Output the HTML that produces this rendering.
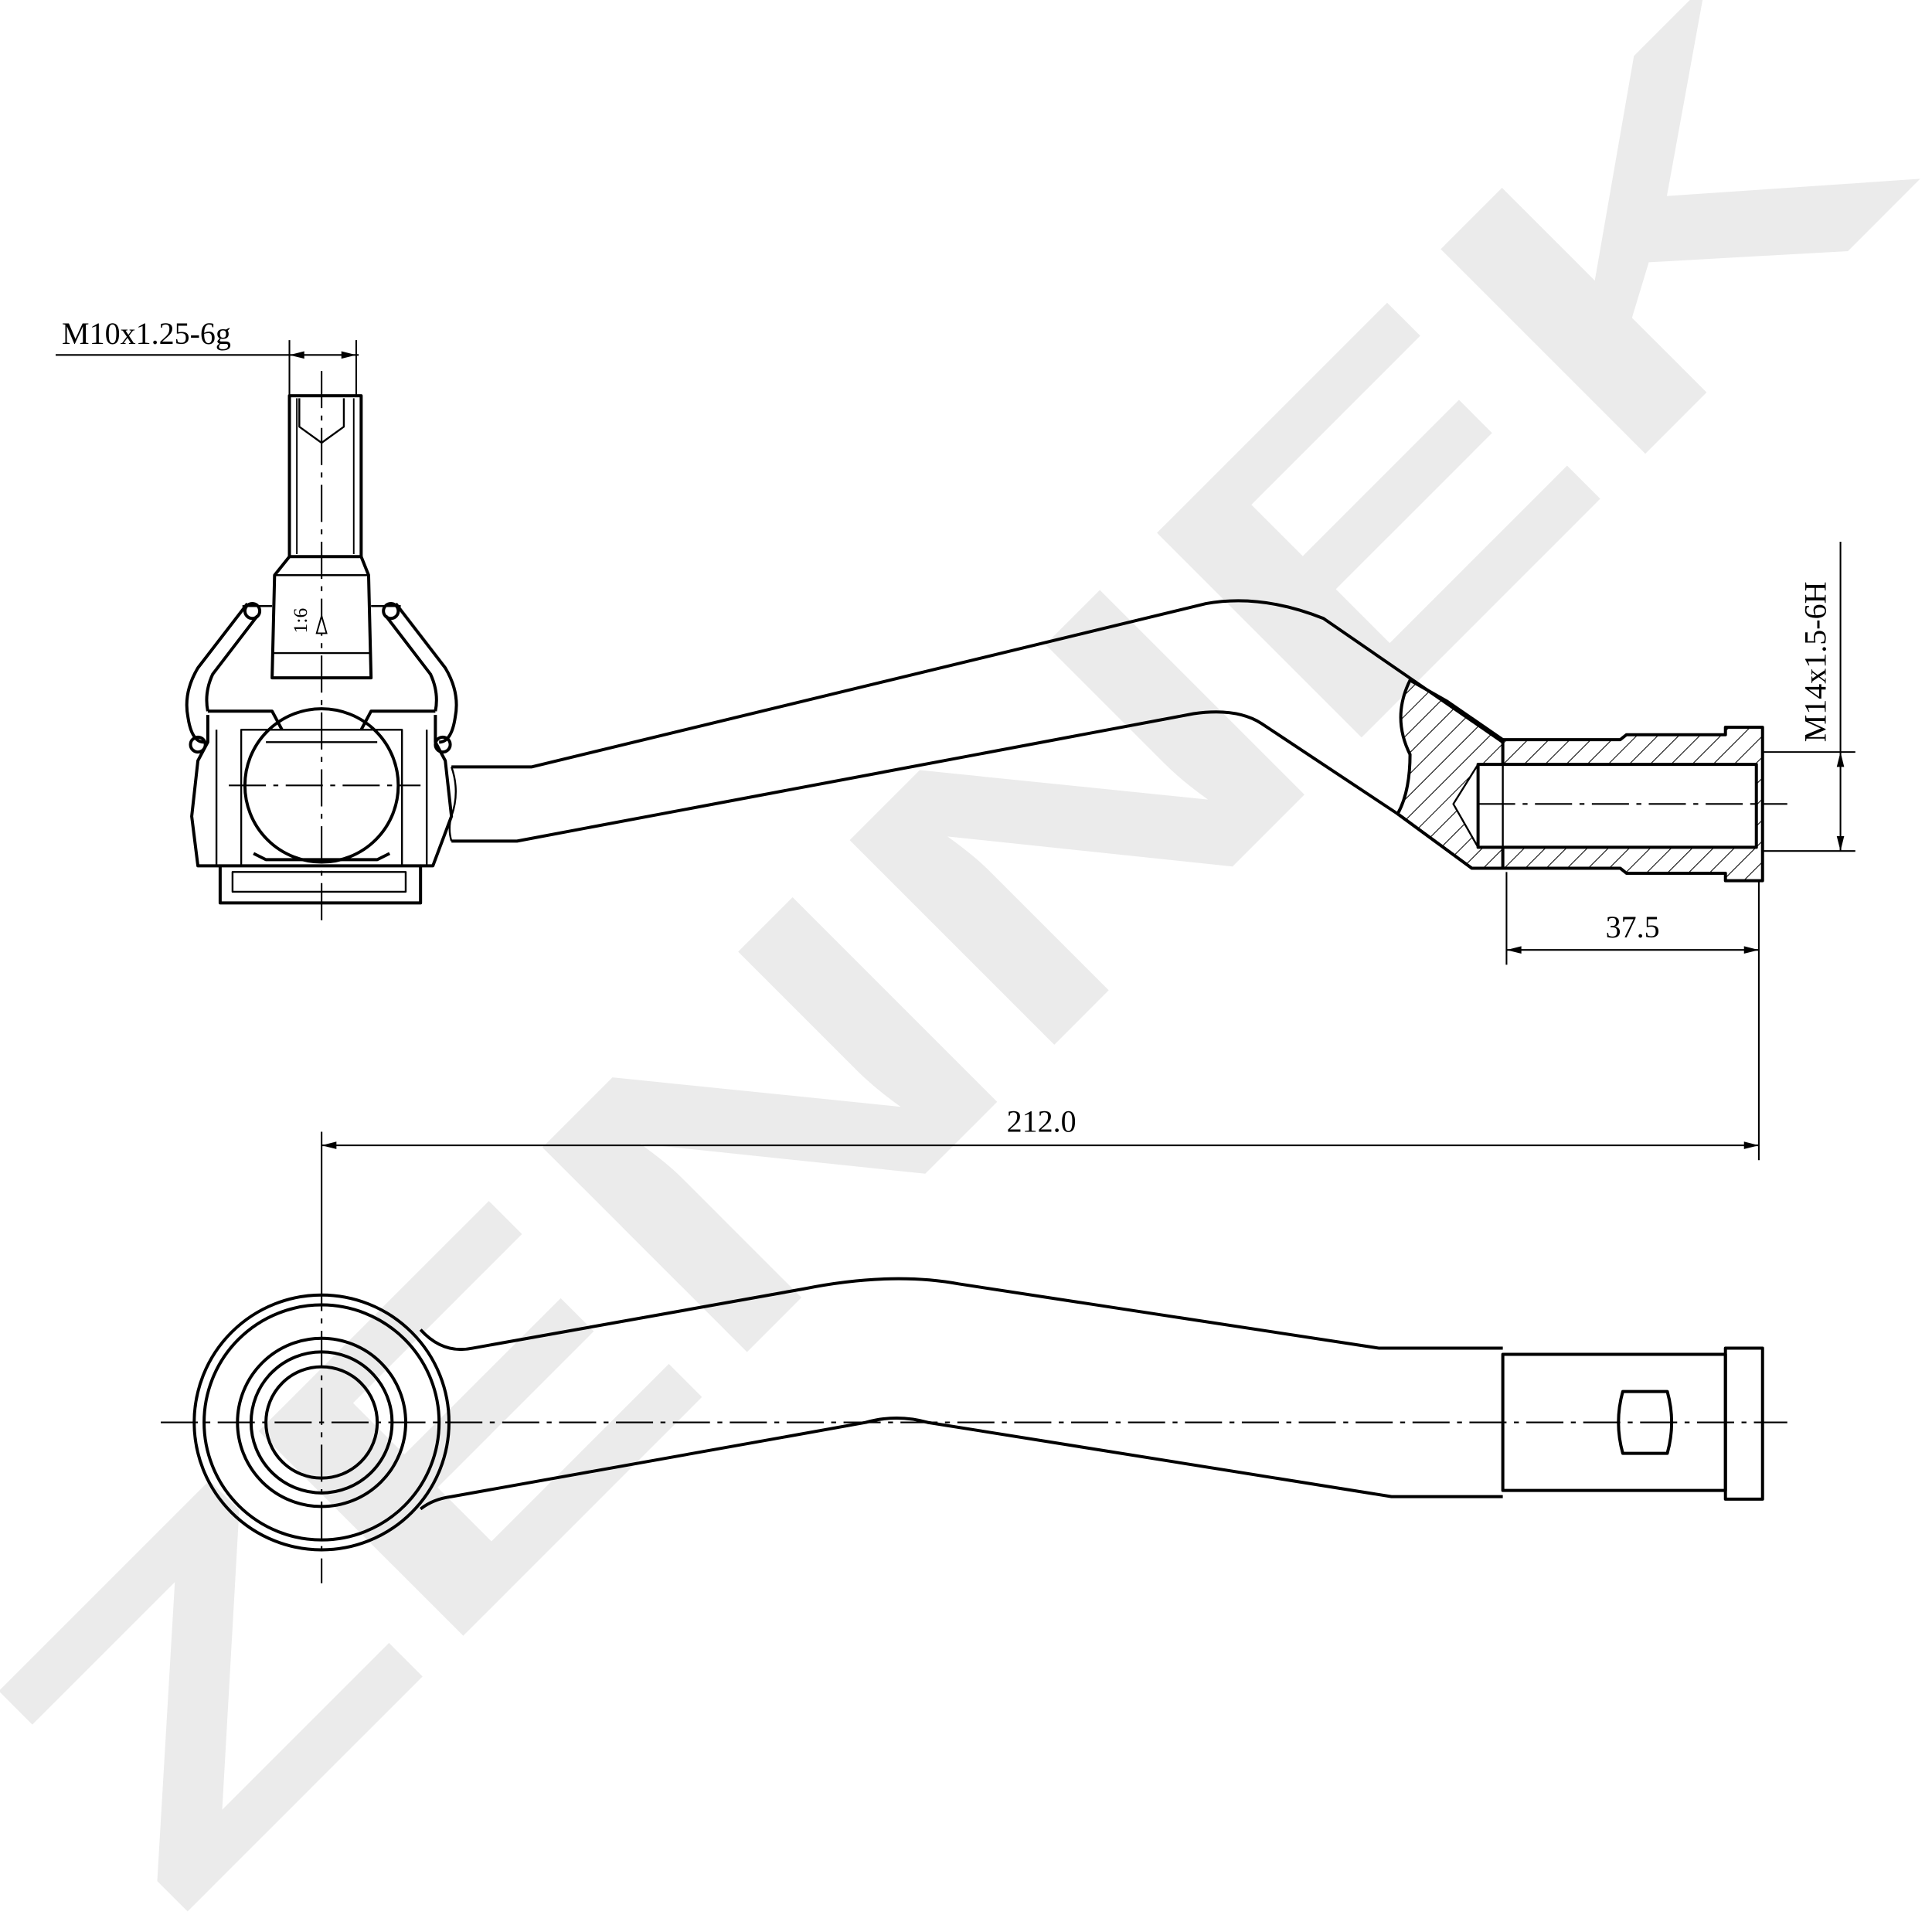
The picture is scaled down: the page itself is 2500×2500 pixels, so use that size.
<!DOCTYPE html>
<html><head><meta charset="utf-8"><style>
html,body{margin:0;padding:0;background:#fff;overflow:hidden;width:2500px;height:2500px;}
svg{display:block;overflow:hidden;}
</style></head><body>
<svg width="2500" height="2500" viewBox="0 0 1562 1562" xmlns="http://www.w3.org/2000/svg">
<defs>
<pattern id="h" patternUnits="userSpaceOnUse" width="12" height="12" patternTransform="rotate(45)">
<line x1="0" y1="0" x2="0" y2="12" stroke="#000" stroke-width="1.3"/>
</pattern>
</defs>
<rect width="1562" height="1562" fill="#fff"/>
<text x="0" y="0" transform="translate(785,785) rotate(-45)" text-anchor="middle" dominant-baseline="middle" font-family="Liberation Sans, sans-serif" font-weight="bold" font-size="340" fill="#ebebeb" textLength="2000" lengthAdjust="spacingAndGlyphs">ZENNEK</text>

<g fill="none" stroke="#000" stroke-width="2.5" stroke-linejoin="round">
<rect x="234" y="320" width="58" height="130"/>
<line x1="240" y1="322" x2="240" y2="448" stroke-width="1.2"/>
<line x1="286" y1="322" x2="286" y2="448" stroke-width="1.2"/>
<path d="M242 322 V345 L260 358 L278 345 V322" stroke-width="1.5"/>
<path d="M234 450 L222 465 L220 548 H300 L298 465 L292 450"/>
<line x1="222" y1="465" x2="298" y2="465" stroke-width="1.5"/>
<line x1="220" y1="528" x2="300" y2="528" stroke-width="1.5"/>
<path d="M200 488 L160 540 Q148 560 152 580 Q155 600 165 600"/>
<path d="M320 488 L360 540 Q372 560 368 580 Q365 600 355 600"/>
<path d="M208 498 L172 545 Q165 560 168 575"/>
<path d="M312 498 L348 545 Q355 560 352 575"/>
<circle cx="204" cy="494" r="6"/><circle cx="316" cy="494" r="6"/>
<circle cx="160" cy="602" r="6"/><circle cx="358" cy="602" r="6"/>
<path d="M220 490 H196 M300 490 H324" stroke-width="1.5"/>
<path d="M168 575 H220 L228 590 M352 575 H300 L292 590"/>
<path d="M168 578 V600 L160 615 L155 660 L160 700 H178 M352 578 V600 L360 615 L365 660 L350 700 H340"/>
<path d="M175 590 V700 M345 590 V700" stroke-width="1.5"/>
<path d="M195 590 H325 V700 H195 Z" stroke-width="1.5"/>
<circle cx="260" cy="635" r="62"/>
<path d="M205 690 L215 695 H305 L315 690"/>
<rect x="178" y="700" width="162" height="30"/>
<rect x="188" y="705" width="140" height="16" stroke-width="1.5"/>
<line x1="215" y1="600" x2="305" y2="600" stroke-width="1.5"/>
<path d="M365 620 H430 L975 488 Q1020 480 1070 500 L1215 600"/>
<path d="M365 680 H418 L965 577 Q1000 572 1020 585 L1130 658 L1190 702 H1215"/>
<path d="M365 620 Q372 640 365 660 Q362 670 365 680" stroke-width="1.5"/>
<path d="M1140 550 Q1125 580 1140 610 Q1140 640 1130 658 L1190 702 H1215 V598 L1170 567 Z" fill="url(#h)"/>
<path d="M1195 618 L1175 650 L1195 685 Z" fill="#fff" stroke-width="1.5"/>
<path d="M1215 598 H1310 L1315 594 H1395 V588 H1425 V712 H1395 V706 H1315 L1310 702 H1215" fill="url(#h)"/>
<rect x="1195" y="618" width="225" height="67" fill="#fff"/>
<line x1="1215" y1="618" x2="1215" y2="685" stroke-width="1.5"/>
<circle cx="260" cy="1150" r="103"/>
<circle cx="260" cy="1150" r="95"/>
<circle cx="260" cy="1150" r="68"/>
<circle cx="260" cy="1150" r="57"/>
<circle cx="260" cy="1150" r="45"/>
<path d="M340 1075 Q358 1095 382 1090 L650 1042 Q720 1028 775 1038 L1115 1090 H1215"/>
<path d="M340 1220 Q350 1212 365 1210 L700 1150 Q725 1143 750 1150 L1125 1210 H1215"/>
<rect x="1215" y="1095" width="180" height="110"/>
<rect x="1395" y="1090" width="30" height="122"/>
<path d="M1312 1125 H1348 Q1355 1150 1348 1175 H1312 Q1305 1150 1312 1125 Z"/>
</g>

<g stroke="#000" stroke-width="1.3" stroke-dasharray="30,6,4,6" fill="none">
<line x1="260" y1="300" x2="260" y2="745"/>
<line x1="185" y1="635" x2="340" y2="635"/>
<line x1="1195" y1="650" x2="1445" y2="650"/>
<line x1="130" y1="1150" x2="1445" y2="1150"/>
<line x1="260" y1="1030" x2="260" y2="1280"/>
</g>

<g stroke="#000" stroke-width="1.3" fill="none">
<line x1="45" y1="287" x2="290" y2="287"/>
<line x1="234" y1="275" x2="234" y2="320"/>
<line x1="288" y1="275" x2="288" y2="320"/>
<line x1="1425" y1="608" x2="1500" y2="608"/>
<line x1="1425" y1="688" x2="1500" y2="688"/>
<line x1="1488" y1="438" x2="1488" y2="688"/>
<line x1="1218" y1="705" x2="1218" y2="780"/>
<line x1="1422" y1="712" x2="1422" y2="938"/>
<line x1="1218" y1="768" x2="1422" y2="768"/>
<line x1="260" y1="915" x2="260" y2="1030"/>
<line x1="260" y1="926" x2="1422" y2="926"/>
</g>
<g fill="#000">
<path d="M234 287 l12 -3 v6z M288 287 l-12 -3 v6z"/>
<path d="M1488 608 l-3 12 h6z M1488 688 l-3 -12 h6z"/>
<path d="M1218 768 l12 -3 v6z M1422 768 l-12 -3 v6z"/>
<path d="M260 926 l12 -3 v6z M1422 926 l-12 -3 v6z"/>
</g>
<path d="M260 498 l-4 14 h8z" fill="#fff" stroke="#000" stroke-width="1.2"/>

<g font-family="Liberation Serif, serif" font-size="25" fill="#000">
<text x="50" y="278">M10x1.25-6g</text>
<text x="1320" y="758" text-anchor="middle">37.5</text>
<text x="842" y="915" text-anchor="middle">212.0</text>
<text x="0" y="0" transform="translate(1476,600) rotate(-90)">M14x1.5-6H</text>
<text x="0" y="0" font-size="16" transform="translate(248,512) rotate(-90)">1:6</text>
</g>
</svg>
</body></html>
